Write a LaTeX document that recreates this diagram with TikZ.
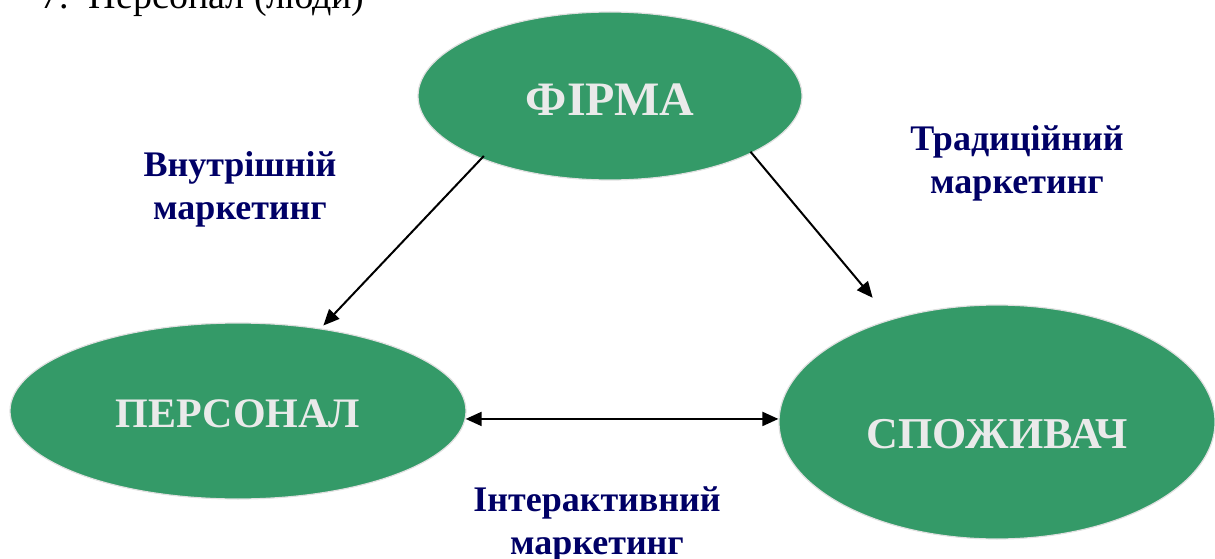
\documentclass[tikz,border=0pt]{standalone}
\usepackage{fontspec}
\setmainfont{Liberation Serif}
\usetikzlibrary{shapes.geometric, arrows.meta}
\definecolor{firmgreen}{RGB}{52,154,104}
\definecolor{lblnavy}{RGB}{0,0,102}
\definecolor{capgray}{RGB}{234,234,234}

\begin{document}
\begin{tikzpicture}[x=0.5pt, y=0.5pt,
		e/.style={ellipse, draw=black!12, line width=0.6pt, fill=firmgreen, text=capgray, inner sep=0pt, font=\fontsize{24}{28}\selectfont\bfseries},
		lbl/.style={text=lblnavy, align=center, inner sep=0pt, font=\fontsize{18}{21.5}\selectfont\bfseries},
		arr/.style={line width=1pt, -{Triangle[length=8pt, width=7pt]}}]
		\useasboundingbox (0,0) rectangle (1215,558);

		\node [anchor=base west, inner sep=0pt, font=\fontsize{19}{22}\selectfont] (T) at (40,549) {7.\hspace{10pt}Персонал (люди)};

		\node [e, minimum width=192pt, minimum height=84pt] (F) at (610,462) {\raisebox{-2pt}[\height][\depth]{ФІРМА}};
		\node [e, minimum width=228pt, minimum height=88pt, font=\fontsize{21}{25}\selectfont\bfseries] (P) at (238,147) {\raisebox{-1.5pt}[\height][\depth]{ПЕРСОНАЛ}};
		\node [e, minimum width=218pt, minimum height=117pt, font=\fontsize{22}{26}\selectfont\bfseries] (C) at (997,136) {\raisebox{-6pt}[\height][\depth]{СПОЖИВАЧ}};

		\node [lbl] (L1) at (240,369) {Внутрішній\\маркетинг};
		\node [lbl] (L2) at (1017,395) {Традиційний\\маркетинг};
		\node [lbl] (L3) at (597,34) {Інтерактивний\\маркетинг};

		\draw [arr, shorten <=-2pt, shorten >=2pt] (F.206) -- (P.45);
		\draw [arr, shorten <=-1pt, shorten >=14pt] (F.338) -- (C.136);
		\draw [arr, {Triangle[length=8pt, width=7pt]}-{Triangle[length=8pt, width=7pt]}] (P.-2) -- (P.-2 -| C.west);
	\end{tikzpicture}
\end{document}
